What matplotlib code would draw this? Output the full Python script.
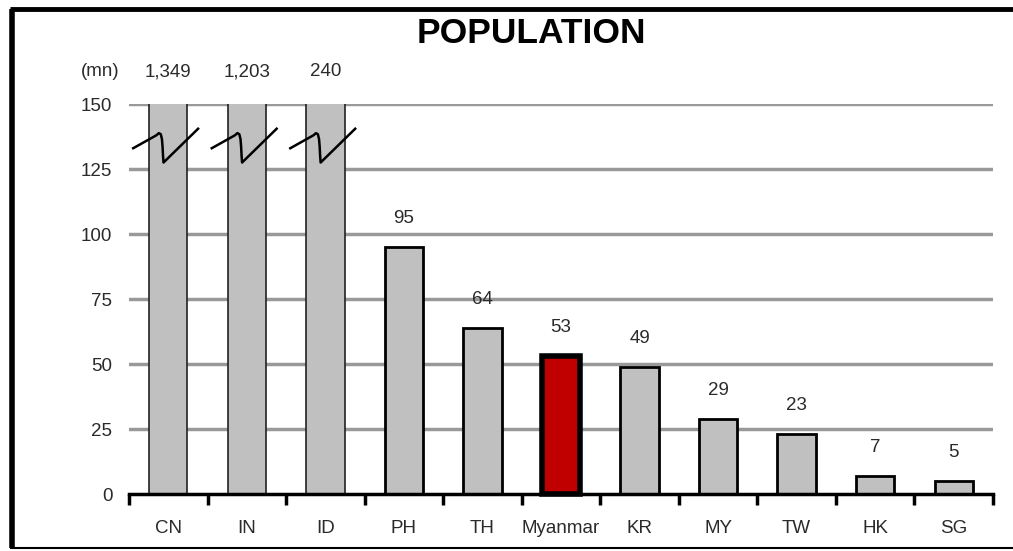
import matplotlib.pyplot as plt
from matplotlib.lines import Line2D
import numpy as np

countries = ["CN", "IN", "ID", "PH", "TH", "Myanmar", "KR", "MY", "TW", "HK", "SG"]
population = [1349, 1203, 240, 95, 64, 53, 49, 29, 23, 7, 5]
labels = ["1,349", "1,203", "240", "95", "64", "53", "49", "29", "23", "7", "5"]
yticks = [0, 25, 50, 75, 100, 125, 150]

narrow = ["Liberation Sans Narrow", "Liberation Sans", "DejaVu Sans"]
cap = 150

fig = plt.figure(figsize=(10.13, 5.51), dpi=100)
ax = fig.add_axes([0.1273, 0.1034, 0.8530, 0.7078])

x = np.arange(len(countries))
shown = [min(v, cap + 1) for v in population]
for i, v in enumerate(shown):
    if population[i] > cap:
        ec, lw, fc = "#222222", 1.2, "#C0C0C0"
    elif countries[i] == "Myanmar":
        ec, lw, fc = "black", 4, "#C00000"
    else:
        ec, lw, fc = "black", 2, "#C0C0C0"
    ax.bar(x[i], v, width=0.49, color=fc, edgecolor=ec, linewidth=lw, zorder=3,
           clip_on=population[i] > cap)
    if population[i] > cap:
        ty = 162.5
        # break mark
        bx = x[i] + np.array([-0.446, -0.15, -0.12, -0.095, -0.08, -0.072, -0.066, -0.06, 0.38])
        by = [133, 138.0, 138.8, 138.4, 136.5, 133.5, 130.0, 127.5, 140.5]
        ax.plot(bx, by, color="black", lw=1.8, zorder=4, clip_on=False,
                solid_joinstyle="round")
    else:
        ty = population[i] + 11
    ax.text(x[i], ty, labels[i], ha="center", va="center", fontsize=13.5,
            color="#2a2a2a", family=narrow, clip_on=False)

ax.text(-0.86, 162.5, "(mn)", ha="center", va="center", fontsize=13.5,
        color="#2a2a2a", family=narrow)

for t in yticks[1:]:
    ax.axhline(t, color="#999999", lw=2.5, zorder=1)

ax.set_xlim(-0.5, len(countries) - 0.5)
ax.set_ylim(0, cap)
for s in ["top", "right", "left"]:
    ax.spines[s].set_visible(False)
ax.spines["bottom"].set_linewidth(2.5)
ax.spines["bottom"].set_zorder(5)

ax.set_yticks(yticks)
ax.set_yticklabels([str(t) for t in yticks], family=narrow, fontsize=13.5, color="#2a2a2a")
ax.tick_params(axis="y", length=0, pad=12)

ax.set_xticks(x)
ax.set_xticklabels(countries, family=narrow, fontsize=13.5, color="#2a2a2a")
ax.tick_params(axis="x", length=0, pad=19)
ax.set_xticks(np.arange(len(countries) + 1) - 0.5, minor=True)
ax.tick_params(axis="x", which="minor", length=8, width=2.5, direction="out", color="black")

fig.text(0.525, 0.94, "POPULATION", ha="center", va="center", fontsize=25.5,
         fontweight="bold", family=["Liberation Sans", "DejaVu Sans"])

# frame around chart
fig.add_artist(Line2D([0.0118, 0.0118], [0.005, 0.984], color="black", lw=4,
                      solid_capstyle="butt", transform=fig.transFigure))
fig.add_artist(Line2D([0.0099, 1.0], [0.9835, 0.9835], color="black", lw=3.5,
                      solid_capstyle="butt", transform=fig.transFigure))
fig.add_artist(Line2D([0.0099, 1.0], [0.0055, 0.0055], color="black", lw=1.5,
                      solid_capstyle="butt", transform=fig.transFigure))

plt.savefig("out.png", dpi=100)
